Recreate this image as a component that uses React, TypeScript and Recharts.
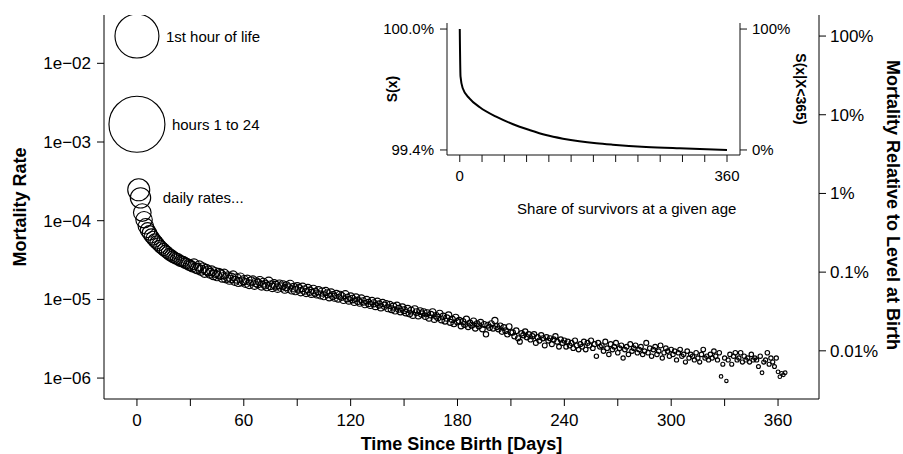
import React from 'react';
import { ScatterChart, Scatter, XAxis, YAxis, ZAxis, LineChart, Line, Label } from 'recharts';

const FONT = '"Liberation Sans", Arial, Helvetica, sans-serif';

// ---- main chart data ----
const hourlyLabels = ['1st hour of life', 'hours 1 to 24'];
const hourlyDays = [0, 0];
const hourlyRates = [0.0222, 0.00168];
// bubble weights (relative deaths per million births)
const hourlyWeights = [1970, 4070];

const dailyLabel = 'daily rates...';
// daily mortality rate, per million survivors, days 1..364
const dailyRatesPerMillion = [
  247, 195, 127, 103, 85, 76, 70, 64, 60, 56,
  53, 50, 47, 45, 43, 41, 39.5, 37.5, 36.5, 35,
  34, 33, 32.5, 31, 30.5, 30, 29, 28.5, 27.5, 27,
  26, 28, 25, 24.5, 26.5, 23.5, 25, 22, 24, 23,
  21.5, 23, 20.5, 22, 19.8, 21.5, 20.8, 19, 21, 18.6,
  19.5, 17.8, 18.8, 20, 17.2, 18.4, 16.6, 18.9, 16.9, 17.6,
  16.2, 17.8, 15.6, 16.9, 17.4, 15.2, 16.5, 15.9, 17.1, 14.9,
  16.3, 15.4, 14.6, 16.8, 15.1, 14.2, 15.7, 14.9, 13.9, 15.5,
  14.3, 15.2, 13.5, 14.7, 13.9, 15.4, 13.2, 14.1, 12.9, 14.4,
  13.6, 12.5, 14.2, 13.1, 12.2, 13.7, 12.7, 11.9, 13.4, 12.3,
  11.7, 12.9, 11.4, 12.4, 11.1, 12.6, 11.8, 10.7, 12.1, 11.2,
  10.6, 11.6, 10.3, 11.3, 10.9, 9.9, 11.5, 10.4, 9.7, 10.8,
  10.1, 9.3, 10.5, 9.6, 9.1, 10.2, 9.4, 8.7, 9.8, 9.0,
  8.5, 9.5, 8.9, 8.2, 9.3, 8.6, 7.9, 9.0, 8.3, 8.7,
  7.7, 8.5, 7.5, 8.1, 7.2, 8.3, 7.6, 7.0, 7.9, 7.3,
  6.8, 7.6, 6.6, 7.2, 6.3, 7.5, 6.9, 6.2, 7.1, 6.5,
  6.9, 6.1, 6.7, 5.8, 6.4, 6.9, 5.6, 6.2, 5.9, 6.6,
  5.5, 6.1, 5.3, 5.8, 6.3, 5.1, 5.6, 4.9, 5.9, 5.2,
  5.4, 4.6, 5.2, 4.8, 5.6, 4.5, 5.0, 4.7, 5.3, 4.3,
  4.9, 4.6, 5.1, 4.2, 4.8, 3.6, 4.7, 4.4, 4.9, 4.3,
  5.4, 4.5, 4.2, 4.6, 3.9, 4.4, 4.0, 3.6, 4.5, 3.8,
  3.8, 3.4, 4.0, 3.2, 2.9, 3.7, 3.5, 3.9, 3.3, 3.6,
  3.1, 3.4, 3.6, 2.8, 3.3, 3.0, 3.5, 3.2, 2.6, 3.3,
  3.0, 3.2, 2.7, 3.1, 3.4, 2.9, 2.5, 3.1, 2.8, 3.0,
  2.5, 2.9, 2.6, 2.8, 2.4, 3.0, 2.6, 2.3, 2.7, 2.5,
  2.9, 2.3, 2.8, 2.6, 3.0, 2.4, 2.7, 1.9, 2.8, 2.5,
  2.6, 2.2, 2.9, 2.4, 2.0, 2.7, 2.3, 2.5, 2.8, 2.1,
  2.4, 2.6, 1.8, 2.3, 2.5, 2.0, 2.7, 2.2, 2.4, 2.6,
  2.1, 2.3, 2.5, 2.0, 2.2, 2.8, 2.1, 2.4, 1.9, 2.3,
  2.5, 2.0, 2.2, 2.6, 1.8, 2.1, 2.4, 2.2, 1.9, 2.3,
  2.0, 2.2, 1.7, 2.1, 2.3, 1.9, 2.0, 1.6, 2.2, 1.8,
  2.0, 1.9, 1.7, 2.1, 1.8, 1.6, 2.0, 2.3, 1.8, 1.9,
  1.7, 2.0, 1.8, 2.2, 1.9, 1.7, 2.1, 1.05, 1.5, 1.8,
  0.92, 1.7, 2.0, 1.5, 1.9, 2.1, 1.7, 1.8, 2.1, 1.6,
  1.9, 1.7, 1.8, 1.6, 2.0, 1.7, 1.8, 1.7, 1.4, 1.9,
  1.17, 1.6, 1.7, 2.1, 1.5, 1.8, 1.6, 1.4, 1.8, 1.2,
  1.04, 1.15, 1.1, 1.17,
];

const xTicks = [0, 30, 60, 90, 120, 150, 180, 210, 240, 270, 300, 330, 360];
const xTickLabels = ['0', '', '60', '', '120', '', '180', '', '240', '', '300', '', '360'];
const rateTicks = [1e-2, 1e-3, 1e-4, 1e-5, 1e-6];
const rateTickLabels = ['1e\u221202', '1e\u221203', '1e\u221204', '1e\u221205', '1e\u221206'];
const relativeTicks = [1, 0.1, 0.01, 0.001, 0.0001];
const relativeTickLabels = ['100%', '10%', '1%', '0.1%', '0.01%'];

// ---- inset data ----
const survivalDays = [0, 1, 4, 13, 27, 49, 71, 94, 116, 139, 161, 184, 206, 251, 296, 360];
const survivalPct = [100, 99.765, 99.706, 99.656, 99.612, 99.565, 99.529, 99.499, 99.474, 99.456, 99.443, 99.433, 99.426, 99.415, 99.408, 99.4];
const insetXTicks = [0, 30, 60, 90, 120, 150, 180, 210, 240, 270, 300, 330, 360];
const insetXTickLabels = ['0', '', '', '', '', '', '', '', '', '', '', '', '360'];
const survivalTicks = [100, 99.4];
const survivalTickLabels = ['100.0%', '99.4%'];
const conditionalTickLabels = ['100%', '0%'];

// ---- derived tables ----
const birthRate = hourlyRates[0];
const relativeTickValues = relativeTicks.map((r) => r * birthRate);

const hourlyData = hourlyRates.map((rate, i) => ({
  day: hourlyDays[i],
  rate,
  z: Math.pow(hourlyWeights[i], 2 / 3),
  note: hourlyLabels[i],
}));

const dailyData = dailyRatesPerMillion.map((v, i) => ({
  day: i + 1,
  rate: v * 1e-6,
  z: Math.pow(v, 2 / 3),
  note: i === 0 ? dailyLabel : undefined,
}));

const survivalData = survivalDays.map((d, i) => ({ day: d, s: survivalPct[i] }));

const pickLabel = (ticks: number[], labels: string[]) => (v: number) => {
  let best = 0;
  for (let i = 1; i < ticks.length; i++) {
    if (Math.abs(ticks[i] - v) < Math.abs(ticks[best] - v)) best = i;
  }
  return labels[best];
};

const makeBubble = (gap: number, dy: number, fontSize: number) => (props: any) => {
  const { cx, cy } = props;
  if (cx == null || cy == null) return null;
  const r = props.width != null ? props.width / 2 : Math.sqrt(Math.max(props.size || 0, 0) / Math.PI);
  const note = props.payload && props.payload.note;
  return (
    <g>
      <circle cx={cx} cy={cy} r={r} fill="none" stroke="#000" strokeWidth={1.15} />
      {note ? (
        <text x={cx + r + gap} y={cy + dy} dominantBaseline="central" fontSize={fontSize} fontFamily={FONT} fill="#000">
          {note}
        </text>
      ) : null}
    </g>
  );
};

const HourlyBubble = makeBubble(7, 0, 15);
const DailyBubble = makeBubble(13, 8, 15);

const title = (text: string, x: number, y: number, angle: number, size: number) => () => (
  <text
    x={x}
    y={y}
    transform={`rotate(${angle}, ${x}, ${y})`}
    textAnchor="middle"
    dominantBaseline="central"
    fontSize={size}
    fontWeight="bold"
    fontFamily={FONT}
    fill="#000"
  >
    {text}
  </text>
);

const plainTitle = (text: string, x: number, y: number, size: number) => () => (
  <text x={x} y={y} textAnchor="middle" dominantBaseline="central" fontSize={size} fontFamily={FONT} fill="#000">
    {text}
  </text>
);

const logTop = Math.pow(10, -1.386);
const logBottom = Math.pow(10, -6.266);

export default function App() {
  const tickStyle = { fill: '#000', fontSize: 17, fontFamily: FONT };
  const insetTick = { fill: '#000', fontSize: 15, fontFamily: FONT };
  return (
    <div style={{ position: 'absolute', left: 0, top: 0, width: 903, height: 454, background: '#fff' }}>
      <div style={{ position: 'absolute', left: 0, top: 0 }}>
        <ScatterChart width={903} height={454} margin={{ top: 15, right: 0, bottom: 0, left: 0 }}>
          <XAxis
            dataKey="day"
            type="number"
            domain={[-18.5, 383]}
            allowDataOverflow
            ticks={xTicks}
            tickFormatter={pickLabel(xTicks, xTickLabels)}
            interval={0}
            height={55}
            tickSize={7}
            tickMargin={8}
            stroke="#000"
            tick={tickStyle}
          >
            <Label content={title('Time Since Birth [Days]', 461.5, 444, 0, 18)} />
          </XAxis>
          <YAxis
            yAxisId="left"
            dataKey="rate"
            type="number"
            scale="log"
            domain={[logBottom, logTop]}
            allowDataOverflow
            ticks={rateTicks}
            tickFormatter={pickLabel(rateTicks, rateTickLabels)}
            interval={0}
            width={104}
            tickSize={7}
            tickMargin={6}
            stroke="#000"
            tick={tickStyle}
          >
            <Label content={title('Mortality Rate', 20, 207, -90, 18)} />
          </YAxis>
          <YAxis
            yAxisId="right"
            orientation="right"
            type="number"
            scale="log"
            domain={[logBottom, logTop]}
            allowDataOverflow
            ticks={relativeTickValues}
            tickFormatter={pickLabel(relativeTickValues, relativeTickLabels)}
            interval={0}
            width={84}
            tickSize={7}
            tickMargin={4}
            stroke="#000"
            tick={{ ...tickStyle, textAnchor: 'start' }}
          >
            <Label content={title('Mortality Relative to Level at Birth', 893, 205, 90, 18)} />
          </YAxis>
          <ZAxis dataKey="z" type="number" domain={[0, 300]} range={[0, 2895]} allowDataOverflow />
          <Scatter
            yAxisId="left"
            data={dailyData}
            shape={DailyBubble}
            fill="none"
            stroke="#000"
            isAnimationActive={false}
          />
          <Scatter
            yAxisId="left"
            data={hourlyData}
            shape={HourlyBubble}
            fill="none"
            stroke="#000"
            isAnimationActive={false}
          />
        </ScatterChart>
      </div>
      <div style={{ position: 'absolute', left: 370, top: 10 }}>
        <LineChart width={450} height={210} data={survivalData} margin={{ top: 13, right: 0, bottom: 0, left: 0 }}>
          <XAxis
            dataKey="day"
            type="number"
            domain={[-17.2, 377.5]}
            allowDataOverflow
            ticks={insetXTicks}
            tickFormatter={pickLabel(insetXTicks, insetXTickLabels)}
            interval={0}
            height={65}
            tickSize={7}
            tickMargin={8}
            stroke="#111"
            tick={insetTick}
          >
            <Label content={plainTitle('Share of survivors at a given age', 256.7, 198, 15)} />
          </XAxis>
          <YAxis
            yAxisId="left"
            type="number"
            domain={[99.375, 100.03]}
            allowDataOverflow
            ticks={survivalTicks}
            tickFormatter={pickLabel(survivalTicks, survivalTickLabels)}
            interval={0}
            width={77}
            tickSize={7}
            tickMargin={6}
            stroke="#111"
            tick={insetTick}
          >
            <Label content={title('S(x)', 22, 79, -90, 14)} />
          </YAxis>
          <YAxis
            yAxisId="right"
            orientation="right"
            type="number"
            domain={[99.375, 100.03]}
            allowDataOverflow
            ticks={survivalTicks}
            tickFormatter={pickLabel(survivalTicks, conditionalTickLabels)}
            interval={0}
            width={80}
            tickSize={7}
            tickMargin={5}
            stroke="#111"
            tick={{ ...insetTick, textAnchor: 'start' }}
          >
            <Label content={title('S(x|X<365)', 430.7, 79, 90, 14)} />
          </YAxis>
          <Line
            yAxisId="left"
            dataKey="s"
            type="monotone"
            stroke="#000"
            strokeWidth={2}
            dot={false}
            isAnimationActive={false}
          />
        </LineChart>
      </div>
    </div>
  );
}
